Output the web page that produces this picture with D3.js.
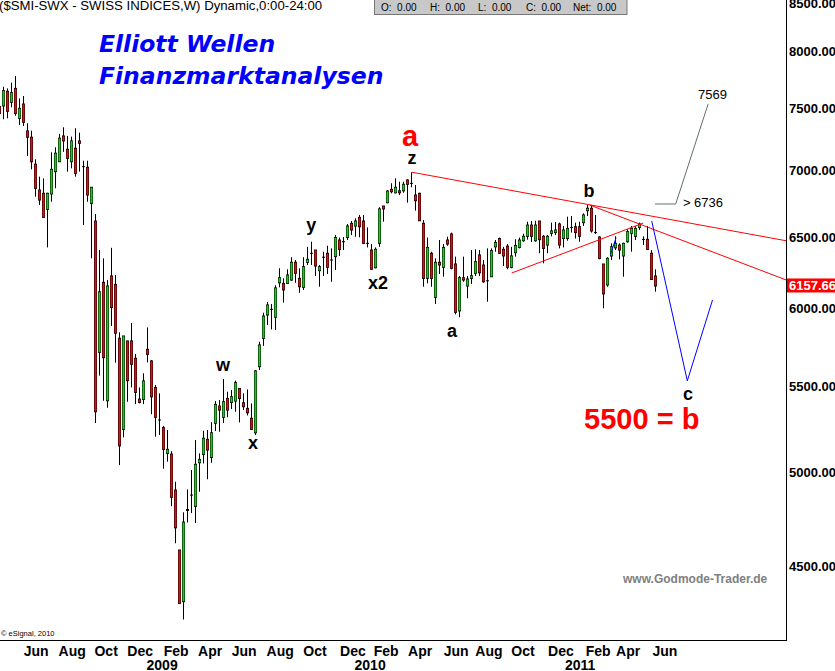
<!DOCTYPE html>
<html><head><meta charset="utf-8">
<script src="https://cdn.jsdelivr.net/npm/d3@7/dist/d3.min.js"></script>
<style>body{margin:0;background:#fff}svg{display:block}</style>
</head><body>
<svg id="c" width="835" height="671"></svg>
<script>
// ---- weekly OHLC of the SMI ----
const opens = [7520,7524,7648,7555,7673,7421,7540,7317,7266,7050,6850,6825,6704,6820,6992,7070,7276,7169,7070,7177,
7236,7031,7026,6749,6617,5715,6179,5414,6223,6165,5805,5244,5788,5788,5677,5424,5422,5734,5660,5495,
5299,5254,5105,5101,4900,4583,4326,4795,4873,4812,5052,5099,5186,5082,5280,5382,5315,5428,5404,5412,
5489,5402,5368,5309,5224,5624,5805,5958,5996,5943,6176,6172,6172,6195,6319,6207,6145,6319,6383,6406,
6260,6355,6383,6335,6359,6478,6466,6496,6600,6580,6644,6617,6454,6406,6281,6454,6729,6754,6855,6829,
6844,6844,6927,6901,6812,6825,6600,6207,6383,6077,6319,6284,6478,6522,6307,5985,6211,6154,6207,6242,
6371,6300,6190,6218,6429,6489,6411,6434,6284,6387,6425,6473,6505,6587,6473,6617,6505,6442,6527,6532,
6595,6489,6489,6570,6575,6575,6605,6694,6712,6532,6500,6307,6161,6364,6422,6442,6364,6466,6527,6505,
6570,6483,6483,6383,6223];
const highs = [7560,7687,7673,7722,7780,7588,7608,7380,7319,7089,6953,6940,6829,7145,7185,7293,7347,7276,7271,7339,
7303,7078,7078,6871,6669,6406,6347,6195,6422,6230,5844,5820,5788,5905,5705,5495,5583,5876,5666,5510,
5459,5264,5240,5118,4946,4583,4780,4904,5011,5182,5105,5236,5240,5286,5412,5418,5547,5469,5479,5537,
5489,5459,5483,5398,5603,5783,5973,6045,6032,6159,6277,6207,6270,6355,6335,6277,6355,6429,6466,6406,
6300,6394,6437,6418,6514,6496,6500,6595,6617,6637,6662,6662,6570,6449,6425,6720,6729,6850,6902,6940,
6914,6914,6932,6987,6888,6829,6624,6496,6394,6347,6478,6449,6502,6532,6359,6223,6359,6223,6406,6411,
6406,6335,6418,6418,6478,6496,6429,6449,6429,6484,6496,6524,6612,6617,6619,6617,6514,6514,6605,6610,
6605,6580,6649,6654,6605,6612,6674,6736,6736,6662,6505,6307,6355,6454,6505,6454,6459,6556,6580,6580,
6605,6505,6580,6406,6270];
const lows = [7440,7413,7421,7513,7442,7366,7358,7115,7010,6799,6736,6644,6425,6761,6863,7070,7149,6992,7018,6953,
6992,6587,6761,6347,5281,5568,5414,5372,5885,5649,5039,5197,5408,5495,5394,5398,5394,5651,5333,5201,
5211,5018,5058,4813,4618,4318,4241,4726,4776,4723,4891,5048,4960,5052,5234,5230,5281,5315,5364,5348,
5285,5358,5326,5240,5211,5603,5756,5892,5863,5859,6145,6041,6172,6190,6176,6108,6127,6300,6300,6223,
6149,6223,6237,6183,6265,6364,6406,6478,6514,6502,6498,6449,6425,6270,6277,6429,6612,6749,6825,6825,
6812,6829,6754,6871,6694,6619,6149,6172,6149,6032,6237,6218,6437,6270,5962,5943,6183,6070,6168,6223,
6223,6176,6047,6218,6394,6378,6293,6270,6277,6359,6418,6466,6481,6463,6466,6383,6312,6383,6505,6514,
6418,6425,6473,6532,6489,6466,6580,6654,6532,6522,6340,6003,6149,6335,6406,6340,6218,6459,6394,6478,
6551,6442,6406,6195,6115];
const closes = [7460,7653,7479,7636,7462,7504,7388,7266,7070,6863,6774,6644,6825,7010,7137,7258,7236,7097,7236,6979,
7217,7031,6812,6871,5348,6114,5681,6154,6008,5838,5148,5820,5537,5639,5465,5404,5535,5702,5438,5315,
5299,5128,5128,4861,4698,4318,4728,4790,4873,5043,5071,5192,5124,5224,5392,5358,5408,5358,5438,5525,
5428,5378,5342,5244,5597,5762,5951,6025,5996,6141,6211,6127,6230,6319,6242,6149,6288,6340,6383,6293,
6288,6355,6284,6335,6496,6411,6466,6580,6551,6617,6575,6454,6454,6270,6411,6707,6707,6842,6837,6871,
6829,6894,6894,6901,6769,6619,6207,6425,6207,6319,6300,6425,6449,6277,5976,6211,6195,6202,6225,6323,
6246,6183,6190,6401,6461,6383,6364,6284,6364,6439,6478,6505,6587,6505,6587,6481,6418,6505,6544,6551,
6442,6551,6563,6570,6532,6505,6662,6712,6544,6532,6347,6100,6347,6429,6454,6406,6454,6539,6563,6563,
6595,6483,6411,6199,6154];

// ---- axis labels ----
const yTicks = [4500,5000,5500,6000,6500,7000,7500,8000,8500];
const monthLabels = ["Jun","Aug","Oct","Dec","Feb","Apr","Jun","Aug","Oct","Dec","Feb","Apr","Jun","Aug","Oct","Dec","Feb","Apr","Jun"];
const monthWeeks  = [9.2,18.2,26.7,35.2,44.2,52.7,61.2,70.2,78.9,88.4,96.7,105.2,114.2,122.4,130.9,140.4,149.7,157.2,166.4];
const yearLabels = ["2009","2010","2011"];
const yearWeeks  = [40.7,92.7,145.2];
const markerValue = 6157.669;

// ---- drawn analysis lines (week index, price) ----
const redLines = [
  [[103.2,6987],[196.67,6473]],
  [[147.6,6736],[196.67,6196]],
  [[128.1,6244],[161.0,6602]]
];
const bluePath = [[163.1,6617],[172.0,5536],[178.3,6059]];
const blueTick = [[152.8,6376],[154.2,6495]];
const grayPath = [[163.9,6744],[169.1,6744],[177.2,7540]];

// ---- wave labels (week index, price at baseline) ----
const waveLabels = [
  {t:"z", w:103.2, v:7052}, {t:"y", w:78.0, v:6542}, {t:"x2", w:94.7, v:6132},
  {t:"w", w:55.9, v:5597}, {t:"x", w:63.4, v:5130}, {t:"a", w:113.2, v:5815},
  {t:"b", w:147.4, v:6799}, {t:"c", w:172.2, v:5418}
];

const svg = d3.select("#c");
const plotR = 786, plotB = 640;
const x = d3.scaleLinear().domain([0,196.67]).range([-0.67,786]);
const y = d3.scaleLog().domain([4500,8500]).range([566.4,-3.3]);
const GREEN = "#1ccc1c", RED = "#dd1111";
const SANS = "'Liberation Sans', Arial, sans-serif";
const NARROW = "'Liberation Sans Narrow', 'Arial Narrow', 'Liberation Sans', sans-serif";

svg.append("rect").attr("width",835).attr("height",671).attr("fill","#fff");
svg.append("defs").append("clipPath").attr("id","clip")
  .append("rect").attr("x",0).attr("y",0).attr("width",plotR).attr("height",plotB);

const g = svg.append("g").attr("clip-path","url(#clip)");

// candles
const data = opens.map((o,i)=>({i,o,h:highs[i],l:lows[i],c:closes[i]}));
const px = d => Math.round(x(d.i));
g.append("g").selectAll("line").data(data).join("line")
  .attr("x1",d=>px(d)+0.5).attr("x2",d=>px(d)+0.5)
  .attr("y1",d=>y(d.h)).attr("y2",d=>y(d.l))
  .attr("stroke","#000").attr("stroke-width",1);
const bodies = g.append("g");
bodies.selectAll("rect.o").data(data).join("rect").attr("class","o")
  .attr("x",d=>px(d)-1).attr("width",3)
  .attr("y",d=>y(Math.max(d.o,d.c))-0.5)
  .attr("height",d=>Math.max(1,y(Math.min(d.o,d.c))-y(Math.max(d.o,d.c))+1))
  .attr("fill","#000");
bodies.selectAll("rect.i").data(data.filter(d=>d.o!==d.c)).join("rect").attr("class","i")
  .attr("x",d=>px(d)-0.5).attr("width",2)
  .attr("y",d=>y(Math.max(d.o,d.c))+0.3)
  .attr("height",d=>Math.max(0,y(Math.min(d.o,d.c))-y(Math.max(d.o,d.c))-0.6))
  .attr("fill",d=>d.c>d.o?GREEN:RED);

// analysis lines
const line = d3.line().x(d=>x(d[0])).y(d=>y(d[1]));
redLines.forEach(l=>g.append("path").attr("d",line(l)).attr("fill","none").attr("stroke","#ff0000").attr("stroke-width",1));
g.append("path").attr("d",line(bluePath)).attr("fill","none").attr("stroke","#0000ff").attr("stroke-width",1);
g.append("path").attr("d",line(blueTick)).attr("fill","none").attr("stroke","#0000ff").attr("stroke-width",1);
g.append("path").attr("d",line(grayPath)).attr("fill","none").attr("stroke","#5f6f6f").attr("stroke-width",1);

// wave labels
g.selectAll("text.wave").data(waveLabels).join("text").attr("class","wave")
  .attr("x",d=>x(d.w)).attr("y",d=>y(d.v)).attr("text-anchor","middle")
  .attr("font-family",SANS).attr("font-weight","bold").attr("font-size",18).attr("fill","#000").text(d=>d.t);
g.append("text").attr("x",x(102.7)).attr("y",y(7196)).attr("text-anchor","middle")
  .attr("font-family",SANS).attr("font-weight","bold").attr("font-size",29).attr("fill","#ff0000").text("a");
g.append("text").attr("x",x(146.2)).attr("y",y(5244))
  .attr("font-family",SANS).attr("font-weight","bold").attr("font-size",29).attr("fill","#ff0000").text("5500 = b");
g.append("text").attr("x",x(170.9)).attr("y",y(6718))
  .attr("font-family",SANS).attr("font-size",13).attr("fill","#000").text("> 6736");
g.append("text").attr("x",x(178.3)).attr("y",y(7586)).attr("text-anchor","middle")
  .attr("font-family",SANS).attr("font-size",13).attr("fill","#000").text("7569");

// titles
const TITLE = "'DejaVu Sans', Verdana, sans-serif";
svg.append("text").attr("x",99).attr("y",52).attr("font-family",TITLE).attr("font-weight","bold")
  .attr("font-style","italic").attr("font-size",23.5).attr("fill","#0000ff").text("Elliott Wellen");
svg.append("text").attr("x",99).attr("y",83.5).attr("font-family",TITLE).attr("font-weight","bold")
  .attr("font-style","italic").attr("font-size",23.5).attr("fill","#0000ff").text("Finanzmarktanalysen");

svg.append("text").attr("x",623).attr("y",583).attr("font-family",SANS).attr("font-weight","bold")
  .attr("font-size",12).attr("fill","#808080").text("www.Godmode-Trader.de");
svg.append("text").attr("x",1).attr("y",636).attr("font-family",SANS)
  .attr("font-size",7.5).attr("fill","#000").text("© eSignal, 2010");

// header
svg.append("text").attr("x",-1).attr("y",9.5).attr("font-family",SANS).attr("font-size",13.2)
  .attr("fill","#000").text("($SMI-SWX - SWISS INDICES,W) Dynamic,0:00-24:00");
svg.append("rect").attr("x",374.5).attr("y",-1).attr("width",252.5).attr("height",15.5)
  .attr("fill","#c8c8c8").attr("stroke","#777").attr("stroke-width",1);
[["O:  0.00",381],["H:  0.00",430],["L:  0.00",478],["C:  0.00",526],["Net:  0.00",573]].forEach(t=>{
  svg.append("text").attr("x",t[1]).attr("y",11).attr("font-family",SANS).attr("font-size",10)
    .attr("fill","#000").attr("xml:space","preserve").style("white-space","pre").text(t[0]);
});

// frame
svg.append("line").attr("x1",plotR+0.5).attr("x2",plotR+0.5).attr("y1",0).attr("y2",plotB+1).attr("stroke","#000");
svg.append("line").attr("x1",0).attr("x2",plotR+1).attr("y1",plotB+0.5).attr("y2",plotB+0.5).attr("stroke","#000");

// y axis labels
svg.selectAll("text.yl").data(yTicks).join("text").attr("class","yl")
  .attr("x",789).attr("y",d=>Math.max(y(d),3.5)).attr("dy","0.36em")
  .attr("font-family",SANS).attr("font-weight","bold").attr("font-size",13).attr("fill","#000")
  .text(d=>d3.format(".2f")(d));
const my = y(markerValue);
svg.append("rect").attr("x",787).attr("y",my-7).attr("width",48).attr("height",14).attr("fill","#ff0000");
svg.append("text").attr("x",789).attr("y",my).attr("dy","0.36em").attr("font-family",SANS)
  .attr("font-weight","bold").attr("font-size",13).attr("fill","#fff").text(d3.format(".3f")(markerValue));

// x axis labels
svg.selectAll("text.ml").data(monthLabels).join("text").attr("class","ml")
  .attr("x",(d,i)=>x(monthWeeks[i])).attr("y",655.5).attr("text-anchor","middle")
  .attr("font-family",NARROW).attr("font-weight","bold").attr("font-size",14).attr("fill","#000").text(d=>d);
svg.selectAll("text.yr").data(yearLabels).join("text").attr("class","yr")
  .attr("x",(d,i)=>x(yearWeeks[i])).attr("y",670).attr("text-anchor","middle")
  .attr("font-family",NARROW).attr("font-weight","bold").attr("font-size",14).attr("fill","#000").text(d=>d);
</script>
</body></html>
